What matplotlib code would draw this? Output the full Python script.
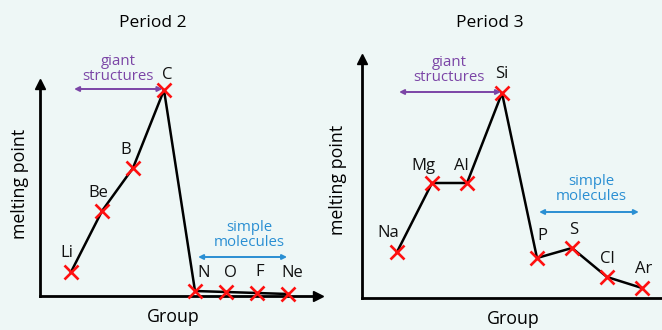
import matplotlib
matplotlib.use("Agg")
import matplotlib.pyplot as plt

# ---- data (schematic melting points, arbitrary units) ----
p2_elements = ["Li", "Be", "B", "C", "N", "O", "F", "Ne"]
p2_groups = [1, 2, 3, 4, 5, 6, 7, 8]
p2_melt = [24, 85, 128, 206, 5, 4, 3, 2]

p3_elements = ["Na", "Mg", "Al", "Si", "P", "S", "Cl", "Ar"]
p3_groups = [1, 2, 3, 4, 5, 6, 7, 8]
p3_melt = [46, 115, 115, 205, 40, 50, 21, 10]

titles = ["Period 2", "Period 3"]

# ---- style / layout ----
W, H = 662, 330
BG = "#eef7f6"
PURPLE = "#7b45a6"
BLUE = "#2a8fd3"
RED = "#ff1010"
FONT = "Open Sans"
plt.rcParams["font.family"] = [FONT, "DejaVu Sans"]

fig = plt.figure(figsize=(W / 100, H / 100), dpi=100)
fig.patch.set_facecolor(BG)


def fx(x):
    return x / W


def fy(y):
    return 1 - y / H


def make_axes(x0, y0, x1, y1, xmax, ymax):
    ax = fig.add_axes([fx(x0), fy(y0), fx(x1) - fx(x0), fy(y1) - fy(y0)])
    ax.set_facecolor("none")
    ax.set_xlim(0, xmax)
    ax.set_ylim(0, ymax)
    for s in ["top", "right"]:
        ax.spines[s].set_visible(False)
    for s in ["left", "bottom"]:
        ax.spines[s].set_linewidth(2.0)
        ax.spines[s].set_color("black")
    ax.set_xticks([])
    ax.set_yticks([])
    ax.plot(1, 0, ">", color="black", ms=7, transform=ax.transAxes, clip_on=False)
    ax.plot(0, 1, "^", color="black", ms=7, transform=ax.transAxes, clip_on=False)
    return ax


# left panel: origin (40,296), right end 318, top 84 ; 31 px per group
axL = make_axes(40, 296, 318, 84, (318 - 40) / 31, 296 - 84)
# right panel: origin (362,298), right end 668, top 59 ; 35 px per group
axR = make_axes(362, 298, 668, 59, (668 - 362) / 35, 298 - 59)

for ax, g, m in [(axL, p2_groups, p2_melt), (axR, p3_groups, p3_melt)]:
    ax.plot(g, m, color="black", lw=1.8, zorder=2, clip_on=False)
    ax.plot(g, m, "x", color=RED, ms=10, mew=1.9, zorder=3, clip_on=False)

# element label offsets (points)
offL = [(-3, 14), (-3, 13), (-5, 13), (2, 11), (6, 13), (3, 14), (2, 15), (3, 15)]
offR = [(-6, 14), (-6, 12), (-4, 12), (0, 14), (4, 16), (1, 13), (0, 13), (1, 14)]
for ax, g, m, names, offs in [(axL, p2_groups, p2_melt, p2_elements, offL),
                              (axR, p3_groups, p3_melt, p3_elements, offR)]:
    for gi, mi, n, o in zip(g, m, names, offs):
        ax.annotate(n, (gi, mi), xytext=o, textcoords="offset points",
                    ha="center", va="center", fontsize=12, color="#111111")

# titles and axis labels
fig.text(fx(153), fy(23), titles[0], ha="center", va="center", fontsize=12.5)
fig.text(fx(490), fy(23), titles[1], ha="center", va="center", fontsize=12.5)
fig.text(fx(20), fy(184), "melting point", rotation=90, ha="center", va="center", fontsize=12.8)
fig.text(fx(338), fy(180), "melting point", rotation=90, ha="center", va="center", fontsize=12.8)
fig.text(fx(173), fy(317), "Group", ha="center", va="center", fontsize=12.8)
fig.text(fx(513), fy(319), "Group", ha="center", va="center", fontsize=12.8)

# range annotations
def span(ax, x0, x1, y, color, label, lx, ly):
    ax.annotate("", xy=(x0, y), xytext=(x1, y),
                arrowprops=dict(arrowstyle="<|-|>", color=color, lw=1.4,
                                mutation_scale=7, shrinkA=0, shrinkB=0),
                annotation_clip=False)
    ax.text(lx, ly, label, ha="center", va="center", color=color,
            fontsize=10.8, linespacing=1.05, clip_on=False)

span(axL, 1.1, 3.95, 207, PURPLE, "giant\nstructures", 2.52, 227)
span(axL, 5.1, 7.97, 39, BLUE, "simple\nmolecules", 6.74, 61)
span(axR, 1.06, 3.97, 206, PURPLE, "giant\nstructures", 2.49, 228)
span(axR, 5.06, 7.91, 86, BLUE, "simple\nmolecules", 6.54, 109)

fig.savefig("out.png", dpi=100, facecolor=BG)
